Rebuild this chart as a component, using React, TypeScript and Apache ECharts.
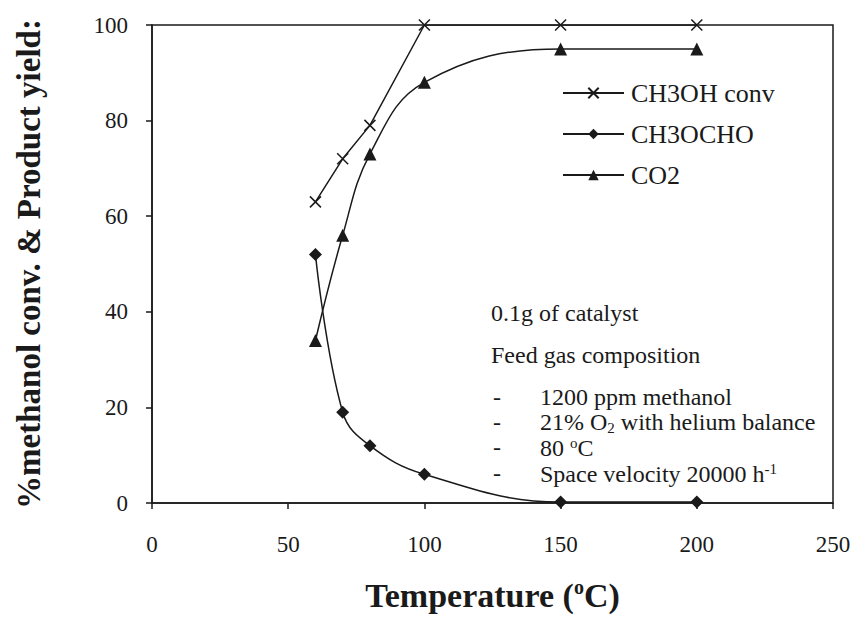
import React, { useEffect, useRef } from "react";
import * as echarts from "echarts";

const temps = [60, 70, 80, 100, 150, 200];
const ch3ohConv = [63, 72, 79, 100, 100, 100];
const ch3ocho = [52, 19, 12, 6, 0.2, 0.2];
const co2 = [34, 56, 73, 88, 95, 95];
const xTicks = [0, 50, 100, 150, 200, 250];
const yTicks = [0, 20, 40, 60, 80, 100];

const FONT = "'Liberation Serif', 'Times New Roman', 'DejaVu Serif', serif";
const INK = "#1a1a1a";

export default function App() {
  const ref = useRef<HTMLDivElement>(null);
  useEffect(() => {
    const chart = echarts.init(ref.current!, null, { renderer: "svg" });
    const pts = (ys: number[]) => temps.map((t, i) => [t, ys[i]]);
    const baseSeries = {
      type: "line",
      lineStyle: { color: INK, width: 1.5 },
      itemStyle: { color: INK },
      symbolSize: 13,
    };
    const FS = 24;
    const annLines = [
      { y: 315, t: "0.1g of catalyst" },
      { y: 357, t: "Feed gas composition" },
    ];
    const listItems = [
      { y: 399, t: "1200 ppm methanol" },
      { y: 424, t: "21% O{sub|2} with helium balance" },
      { y: 449, t: "80 {sup|o}C" },
      { y: 475, t: "Space velocity 20000 h{sup|-1}" },
    ];
    const graphics: any[] = [];
    annLines.forEach((a) =>
      graphics.push({
        type: "text",
        left: 491,
        top: a.y - 14,
        style: { text: a.t, fontSize: FS, fontFamily: FONT, fill: INK },
      })
    );
    listItems.forEach((a) => {
      graphics.push({
        type: "text",
        left: 493,
        top: a.y - 14,
        style: { text: "-", fontSize: FS, fontFamily: FONT, fill: INK },
      });
      graphics.push({
        type: "text",
        left: 540,
        top: a.y - 14,
        style: {
          text: a.t,
          fontSize: FS,
          fontFamily: FONT,
          fill: INK,
          rich: {
            sub: { fontSize: 15, fontFamily: FONT, fill: INK, padding: [12, 0, 0, 0] },
            sup: { fontSize: 15, fontFamily: FONT, fill: INK, padding: [0, 0, 10, 0] },
          },
        },
      });
    });
    chart.setOption({
      animation: false,
      backgroundColor: "#ffffff",
      textStyle: { fontFamily: FONT, color: INK },
      grid: {
        left: 152,
        right: 25,
        top: 25,
        bottom: 107,
        show: true,
        borderColor: INK,
        borderWidth: 1.5,
      },
      legend: {
        orient: "vertical",
        left: 557,
        top: 75,
        itemWidth: 61,
        itemHeight: 13,
        itemGap: 15,
        textStyle: { fontSize: 26, fontFamily: FONT, color: INK, padding: [0, 0, 0, 2] },
        data: ["CH3OH conv", "CH3OCHO", "CO2"],
      },
      xAxis: {
        type: "value",
        min: 0,
        max: 250,
        interval: 50,
        name: "Temperature ({sup|o}C)",
        nameLocation: "middle",
        nameGap: 74,
        nameTextStyle: {
          fontSize: 34,
          fontWeight: "bold",
          fontFamily: FONT,
          color: INK,
          rich: {
            sup: { fontSize: 20, fontWeight: "bold", fontFamily: FONT, color: INK, padding: [0, 0, 16, 0] },
          },
        },
        axisLine: { show: true, lineStyle: { color: INK, width: 1.5 } },
        axisTick: { show: true, inside: false, length: 6, lineStyle: { color: INK, width: 1.5 } },
        axisLabel: { fontSize: 23, fontFamily: FONT, color: INK, margin: 30 },
        splitLine: { show: false },
      },
      yAxis: {
        type: "value",
        min: 0,
        max: 100,
        interval: 20,
        name: "%methanol conv. & Product yield:",
        nameLocation: "middle",
        nameGap: 107,
        nameTextStyle: { fontSize: 33, fontWeight: "bold", fontFamily: FONT, color: INK },
        axisLine: { show: true, lineStyle: { color: INK, width: 1.5 } },
        axisTick: { show: true, inside: false, length: 6, lineStyle: { color: INK, width: 1.5 } },
        axisLabel: { fontSize: 23, fontFamily: FONT, color: INK, margin: 24 },
        splitLine: { show: false },
      },
      graphic: graphics,
      series: [
        {
          ...baseSeries,
          name: "CH3OH conv",
          symbol: "path://M0,0L10,10M10,0L0,10",
          symbolSize: 11,
          itemStyle: { color: "none", borderColor: INK, borderWidth: 1.5 },
          data: pts(ch3ohConv),
          z: 3,
        },
        {
          ...baseSeries,
          name: "CH3OCHO",
          symbol: "diamond",
          symbolSize: 13,
          smooth: 0.4,
          data: pts(ch3ocho),
        },
        {
          ...baseSeries,
          name: "CO2",
          symbol: "triangle",
          symbolSize: 13,
          smooth: 0.4,
          data: pts(co2),
        },
      ],
    });
    return () => chart.dispose();
  }, []);
  return (
    <div
      ref={ref}
      style={{ position: "absolute", left: 0, top: 0, width: 858, height: 617 }}
    />
  );
}
